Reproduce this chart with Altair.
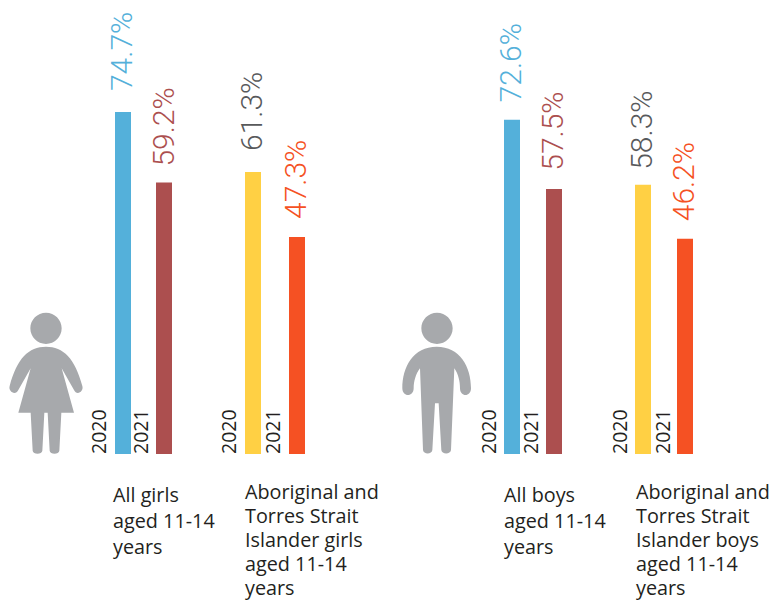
import altair as alt
import pandas as pd

groups = ["All girls", "All girls", "Aboriginal girls", "Aboriginal girls",
          "All boys", "All boys", "Aboriginal boys", "Aboriginal boys"]
years = ["2020", "2021", "2020", "2021", "2020", "2021", "2020", "2021"]
# bar heights; the printed labels follow below
values = [74.7, 59.3, 61.6, 47.4, 73.0, 57.9, 58.8, 47.0]
value_labels = ["74.7%", "59.2%", "61.3%", "47.3%", "72.6%", "57.5%", "58.3%", "46.2%"]
short_labels = ["All girls\naged 11-14\nyears", "All boys\naged 11-14\nyears"]
long_labels = [
    "Aboriginal and\nTorres Strait\nIslander girls\naged 11-14\nyears",
    "Aboriginal and\nTorres Strait\nIslander boys\naged 11-14\nyears",
]

# layout and style, kept apart from the data
BAR_X = [107, 148, 237, 281, 496, 538, 627, 669]
YEAR_X = [92, 134, 222, 266, 482, 524, 613, 656]
SHORT_X = [105, 496]
LONG_X = [237, 628]
LABEL_X = [115, 157, 245, 289, 504, 546, 635, 677]
LABEL_GAP = [21, 16, 21, 18, 17.4, 18.2, 15, 17.6]
BAR_COLORS = ["#54B0DA", "#AC4F4F", "#FFD044", "#F55123"] * 2
LABEL_COLORS = ["#54B0DA", "#AC4F4F", "#58595B", "#F55123"] * 2
ICON = "#A7A9AC"
INK = "#231F20"
FONT = "Open Sans"

GIRL = ("M91,85a47,47 0 1,0 94,0a47,47 0 1,0 -94,0Z"
        "M138,140C190,140 225,175 247,258C252,275 230,288 222,270L185,205"
        "L222,338L184,338L178,452C177,464 150,464 149,452L143,338"
        "L133,338L127,452C126,464 99,464 98,452L92,338L55,338L92,205L55,270"
        "C47,288 24,275 29,258C51,175 86,140 138,140Z")
BOY = ("M79,85a47,47 0 1,0 94,0a47,47 0 1,0 -94,0Z"
       "M125,140C195,140 228,200 228,265C228,292 195,292 195,265C195,245 190,222 178,205"
       "L168,450C167,464 140,464 139,450L131,310L120,310L112,450C111,464 85,464 84,450"
       "L75,205C62,222 56,245 56,265C56,292 22,292 22,265C22,200 55,140 125,140Z")

xs = alt.Scale(domain=[0, 771], range=[0, 771])
ys = alt.Scale(domain=[0, 100], range=[446, -11.8])
X = alt.X("px:Q", scale=xs, axis=None)
Y = alt.Y("value:Q", scale=ys, axis=None)

bars_df = pd.DataFrame({
    "group": groups, "year": years, "value": values, "zero": [0] * 8,
    "px": BAR_X, "px2": [b + 16 for b in BAR_X], "color": BAR_COLORS,
})
years_df = pd.DataFrame({"year": years, "value": [0] * 8, "px": YEAR_X})

bars = alt.Chart(bars_df).mark_rect().encode(
    x=X, x2="px2:Q", y=Y, y2="zero:Q",
    color=alt.Color("color:N", scale=None),
)

year_text = alt.Chart(years_df).mark_text(
    angle=270, align="left", baseline="middle", font=FONT, fontSize=19.5, color=INK
).encode(x=X, y=Y, text="year:N")

layers = [bars, year_text]

for i, v in enumerate(values):
    row = pd.DataFrame({"value": [v], "label": [value_labels[i]], "px": [LABEL_X[i]]})
    layers.append(
        alt.Chart(row).mark_text(
            angle=270, align="left", baseline="middle", font="Roboto", fontSize=30,
            fontWeight=300, color=LABEL_COLORS[i], dx=LABEL_GAP[i],
        ).encode(x=X, y=Y, text="label:N")
    )

for labels, px, base, lh in ((short_labels, SHORT_X, -10.4, 26), (long_labels, LONG_X, -9.85, 24)):
    cat_df = pd.DataFrame({"label": labels, "px": px, "value": [base] * 2})
    layers.append(
        alt.Chart(cat_df).mark_text(
            align="left", baseline="alphabetic", font=FONT, fontSize=19.8, color=INK,
            lineBreak="\n", lineHeight=lh,
        ).encode(x=X, y=Y, text="label:N")
    )

for path, ox in ((GIRL, -8), (BOY, 387)):
    icon_df = pd.DataFrame({"px": [ox], "value": [33.64]})
    layers.append(
        alt.Chart(icon_df).mark_point(
            shape=path, size=4 / 9, filled=True, opacity=1, color=ICON, strokeWidth=0
        ).encode(x=X, y=Y)
    )

chart = alt.layer(*layers).properties(
    width=763, height=592, padding=0, autosize=alt.AutoSizeParams(type="none"), background="white"
).configure_view(stroke=None)

chart.save("out.html", embed_options={"renderer": "svg", "actions": False})
